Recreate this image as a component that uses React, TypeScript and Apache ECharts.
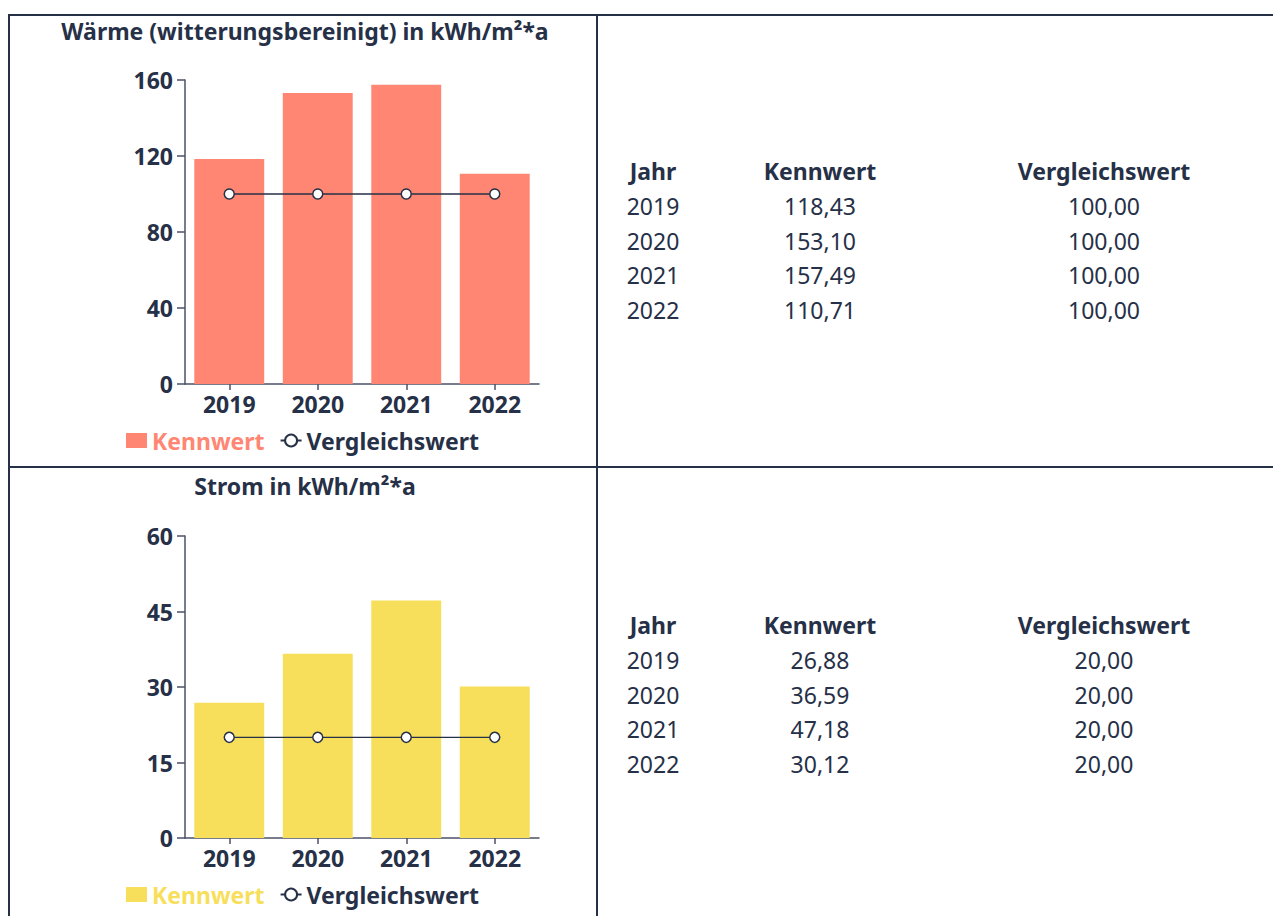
import React, { useEffect, useRef } from "react";
import * as echarts from "echarts";

const years = ["2019", "2020", "2021", "2022"];
const waermeKennwert = [118.43, 153.1, 157.49, 110.71];
const waermeVergleich = [100, 100, 100, 100];
const stromKennwert = [26.88, 36.59, 47.18, 30.12];
const stromVergleich = [20, 20, 20, 20];
const waermeAxisMax = 160;
const waermeAxisInterval = 40;
const stromAxisMax = 60;
const stromAxisInterval = 15;
const tableHeaders = ["Jahr", "Kennwert", "Vergleichswert"];
const waermeTitle = "Wärme (witterungsbereinigt) in kWh/m²*a";
const stromTitle = "Strom in kWh/m²*a";

const NAVY = "#263047";
const AXIS = "#4b5167";
const SALMON = "#FF8673";
const YELLOW = "#F7DF5B";
const FONT = "'Noto Sans', 'Open Sans', sans-serif";
const FS = 23;

const fmt = (v: number) => v.toFixed(2).replace(".", ",");

function tableGraphics(top: number, kenn: number[], verg: number[]) {
  const cols = [653, 820, 1104];
  const rowGap = 34.75;
  const els: any[] = [];
  tableHeaders.forEach((h, i) => {
    els.push({
      type: "text",
      x: cols[i],
      y: top,
      style: { text: h, fill: NAVY, font: `bold ${FS}px ${FONT}`, align: "center", verticalAlign: "middle" },
    });
  });
  years.forEach((y, r) => {
    const vals = [y, fmt(kenn[r]), fmt(verg[r])];
    vals.forEach((t, i) => {
      els.push({
        type: "text",
        x: cols[i],
        y: top + rowGap * (r + 1),
        style: { text: t, fill: NAVY, font: `${FS}px ${FONT}`, align: "center", verticalAlign: "middle" },
      });
    });
  });
  return els;
}

function lineEl(x1: number, y1: number, x2: number, y2: number) {
  return { type: "line", shape: { x1, y1, x2, y2 }, style: { stroke: NAVY, lineWidth: 2 } };
}

export default function App() {
  const ref = useRef<HTMLDivElement>(null);
  useEffect(() => {
    if (!ref.current) return;
    const chart = echarts.init(ref.current, undefined, { renderer: "svg" });
    const axisLabel = { color: NAVY, fontSize: FS, fontWeight: "bold", fontFamily: FONT };
    const yAxisCommon = {
      type: "value",
      min: 0,
      axisLine: { show: true, lineStyle: { color: AXIS, width: 1.5 } },
      axisTick: { show: true, length: 8, lineStyle: { color: AXIS, width: 1.5 } },
      splitLine: { show: false },
      axisLabel: { ...axisLabel, margin: 12 },
    };
    const xAxisCommon = {
      type: "category",
      data: years,
      axisLine: { show: true, lineStyle: { color: AXIS, width: 1.5 } },
      axisTick: { show: true, alignWithLabel: true, length: 6, lineStyle: { color: AXIS, width: 1.5 } },
      axisLabel: { ...axisLabel, margin: 8 },
    };
    const lineSeries = (data: number[], idx: number) => ({
      type: "line",
      name: "Vergleichswert",
      xAxisIndex: idx,
      yAxisIndex: idx,
      data,
      symbol: "circle",
      symbolSize: 10,
      lineStyle: { color: NAVY, width: 1.3 },
      itemStyle: { color: "#ffffff", borderColor: NAVY, borderWidth: 1.5 },
      z: 3,
    });
    const legendCommon = {
      left: 126,
      padding: 0,
      itemWidth: 21,
      itemHeight: 15,
      itemGap: 15,
      textStyle: { fontSize: FS, fontWeight: "bold", fontFamily: FONT },
    };
    chart.setOption({
      animation: false,
      textStyle: { fontFamily: FONT },
      title: [
        {
          text: waermeTitle,
          left: 300,
          top: 14,
          textAlign: "center",
          textStyle: { color: NAVY, fontSize: FS, fontWeight: "bold", fontFamily: FONT },
        },
        {
          text: stromTitle,
          left: 300,
          top: 469,
          textAlign: "center",
          textStyle: { color: NAVY, fontSize: FS, fontWeight: "bold", fontFamily: FONT },
        },
      ],
      legend: [
        {
          ...legendCommon,
          top: 429,
          data: [
            { name: "Kennwert", icon: "rect", itemStyle: { color: SALMON }, textStyle: { color: SALMON } },
            { name: "Vergleichswert", textStyle: { color: NAVY } },
          ],
        },
        {
          ...legendCommon,
          top: 883,
          data: [
            { name: "Kennwert", icon: "rect", itemStyle: { color: YELLOW }, textStyle: { color: YELLOW } },
            { name: "Vergleichswert", textStyle: { color: NAVY } },
          ],
        },
      ],
      grid: [
        { left: 185, top: 80, width: 354, height: 304 },
        { left: 185, top: 536, width: 354, height: 302 },
      ],
      xAxis: [
        { ...xAxisCommon, gridIndex: 0 },
        { ...xAxisCommon, gridIndex: 1 },
      ],
      yAxis: [
        { ...yAxisCommon, gridIndex: 0, max: waermeAxisMax, interval: waermeAxisInterval },
        { ...yAxisCommon, gridIndex: 1, max: stromAxisMax, interval: stromAxisInterval },
      ],
      series: [
        {
          type: "bar",
          name: "Kennwert",
          xAxisIndex: 0,
          yAxisIndex: 0,
          data: waermeKennwert,
          barCategoryGap: "21%",
          itemStyle: { color: SALMON },
        },
        lineSeries(waermeVergleich, 0),
        {
          type: "bar",
          name: "Kennwert",
          xAxisIndex: 1,
          yAxisIndex: 1,
          data: stromKennwert,
          barCategoryGap: "21%",
          itemStyle: { color: YELLOW },
        },
        lineSeries(stromVergleich, 1),
      ],
      graphic: [
        lineEl(8, 15, 1273, 15),
        lineEl(9, 14, 9, 916),
        lineEl(597, 14, 597, 916),
        lineEl(8, 467, 1273, 467),
        ...tableGraphics(171, waermeKennwert, waermeVergleich),
        ...tableGraphics(625, stromKennwert, stromVergleich),
      ],
    });
    return () => chart.dispose();
  }, []);
  return (
    <div
      ref={ref}
      style={{ position: "absolute", left: 0, top: 0, width: 1273, height: 916, background: "#fff" }}
    />
  );
}
